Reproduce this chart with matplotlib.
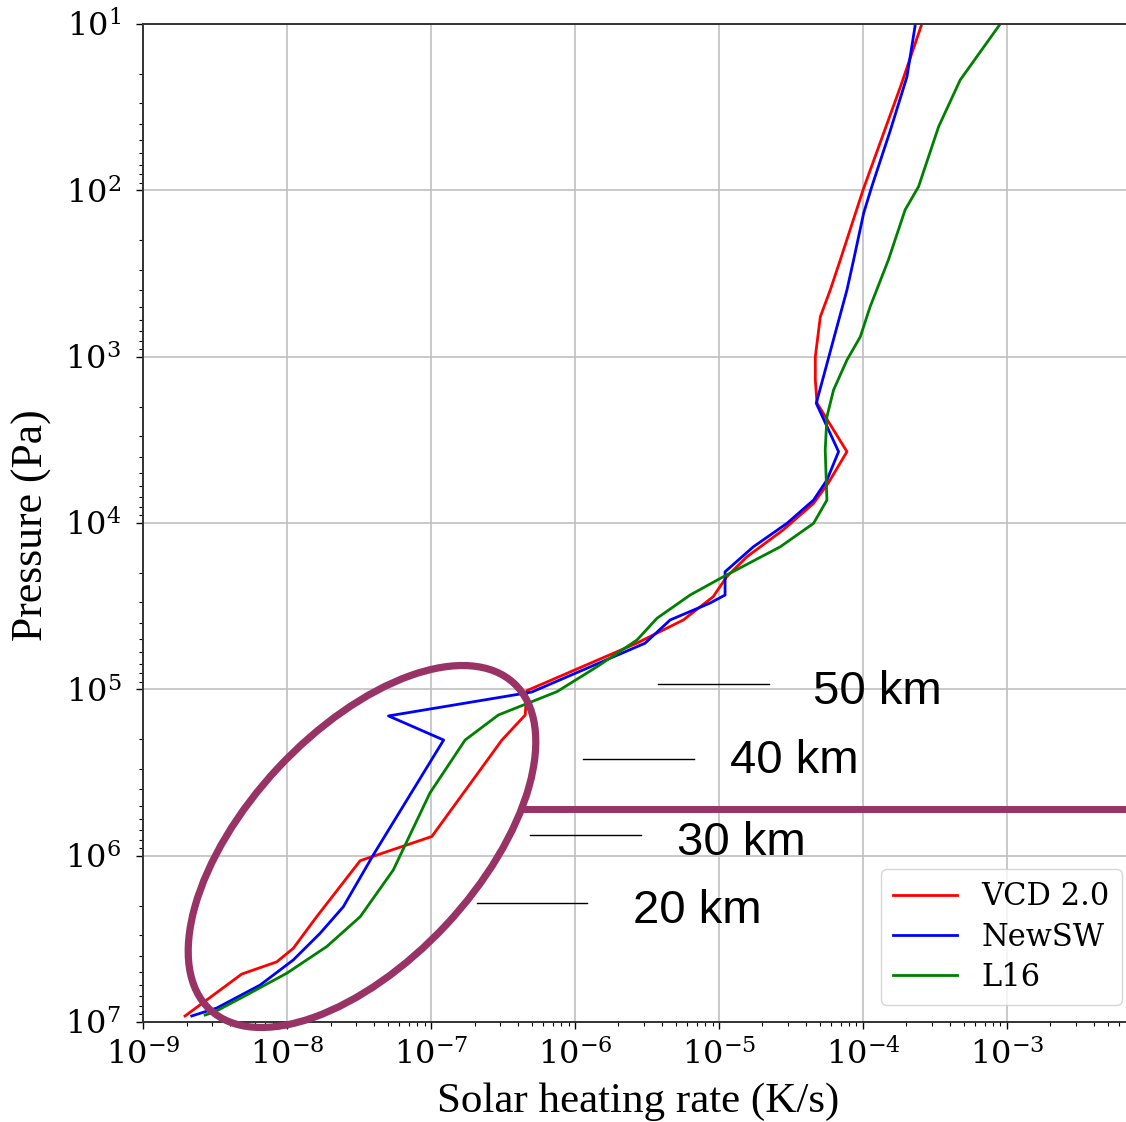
import numpy as np
import matplotlib.pyplot as plt
from matplotlib.patches import Ellipse
from matplotlib.lines import Line2D
from matplotlib.ticker import LogLocator

plt.rcParams['font.family'] = 'serif'
plt.rcParams['font.serif'] = ['DejaVu Serif']
plt.rcParams['mathtext.fontset'] = 'dejavuserif'

## heating rate profiles (K/s) against pressure (Pa)
vcd_rate = [2.56e-4, 1.82e-4, 1.0e-4, 6.95e-5, 5.92e-5, 5.05e-5, 4.66e-5, 4.66e-5,
            4.79e-5, 7.73e-5, 5.73e-5, 4.53e-5, 2.78e-5, 1.56e-5, 1.13e-5, 9.1e-6,
            5.64e-6, 2.69e-6, 4.61e-7, 4.50e-7, 3.10e-7, 1.01e-7, 3.21e-8, 1.60e-8,
            1.10e-8, 8.45e-9, 4.83e-9, 1.95e-9]
vcd_p = [10, 23.8, 99.5, 262, 397, 575, 1000, 1380,
         1905, 3725, 5755, 7620, 1.102e4, 1.596e4, 2.104e4, 2.773e4,
         3.828e4, 5.27e4, 1.019e5, 1.426e5, 2.017e5, 7.67e5, 1.072e6, 2.33e6,
         3.61e6, 4.35e6, 5.15e6, 9.2e6]

newsw_rate = [2.31e-4, 2.02e-4, 1.55e-4, 1.15e-4, 1.01e-4, 8.6e-5, 7.73e-5, 6.41e-5,
              5.31e-5, 4.73e-5, 6.76e-5, 5.61e-5, 4.53e-5, 2.96e-5, 1.73e-5, 1.10e-5,
              1.10e-5, 8.67e-6, 4.57e-6, 3.06e-6, 5.0e-7, 5.05e-8, 1.22e-7, 3.96e-8,
              2.45e-8, 1.69e-8, 1.10e-8, 6.47e-9, 3.24e-9, 2.17e-9]
newsw_p = [10, 20.7, 43.4, 95, 137, 262, 397, 721,
           1318, 1905, 3725, 5520, 7280, 1.005e4, 1.39e4, 1.964e4,
           2.71e4, 3.027e4, 3.828e4, 5.28e4, 1.038e5, 1.445e5, 2.017e5, 9.9e5,
           2.03e6, 2.93e6, 4.24e6, 6.0e6, 8.24e6, 9.2e6]

l16_rate = [8.97e-4, 4.73e-4, 3.35e-4, 2.43e-4, 1.96e-4, 1.50e-4, 1.12e-4, 9.57e-5,
            7.73e-5, 6.24e-5, 5.61e-5, 5.46e-5, 5.61e-5, 4.53e-5, 2.66e-5, 1.07e-5,
            6.29e-6, 3.70e-6, 2.69e-6, 1.42e-6, 7.47e-7, 2.93e-7, 1.72e-7, 9.8e-8,
            5.45e-8, 3.21e-8, 1.88e-8, 9.93e-9, 4.95e-9, 3.15e-9, 2.69e-9]
l16_p = [10, 21.7, 41.4, 95, 131, 262, 501, 759,
         1047, 1585, 2296, 3640, 7280, 1.005e4, 1.39e4, 2.104e4,
         2.71e4, 3.74e4, 5.05e4, 7.31e4, 1.033e5, 1.426e5, 2.017e5, 4.2e5,
         1.22e6, 2.33e6, 3.52e6, 5.09e6, 7.05e6, 8.67e6, 9.08e6]

altitude_labels = ['50 km', '40 km', '30 km', '20 km']

purple = '#993366'

fig = plt.figure(figsize=(11.26, 11.22), dpi=100)
ax = fig.add_axes([143.3/1126, 100/1122, (1137-143.3)/1126, 998/1122])

ax.plot(vcd_rate, vcd_p, color='red', lw=2.0, label='VCD 2.0')
ax.plot(newsw_rate, newsw_p, color='blue', lw=2.0, label='NewSW')
ax.plot(l16_rate, l16_p, color='green', lw=2.0, label='L16')

ax.set_xscale('log')
ax.set_yscale('log')
ax.set_xlim(1e-9, 8.0e-3)
ax.set_ylim(1e7, 1e1)
ax.xaxis.set_major_locator(LogLocator(base=10, numticks=20))
ax.xaxis.set_minor_locator(LogLocator(base=10, subs=np.arange(2, 10), numticks=100))
ax.yaxis.set_major_locator(LogLocator(base=10, numticks=20))
ax.yaxis.set_minor_locator(LogLocator(base=10, subs=np.arange(2, 10), numticks=100))

ax.grid(True, which='major', color='#c0c0c0', lw=1.2)
for s in ax.spines.values():
    s.set_color('#333333')
    s.set_linewidth(1.4)
ax.tick_params(which='major', length=5, width=1, labelsize=23)
ax.tick_params(which='minor', length=3, width=0.8)
ax.tick_params(axis='y', pad=11)
ax.tick_params(axis='x', pad=7)

ax.set_xlabel('Solar heating rate (K/s)', family='Liberation Serif', fontsize=31)
ax.set_ylabel('Pressure (Pa)', family='Liberation Serif', fontsize=31.5)
ax.xaxis.set_label_coords(0.498, -0.061)
ax.yaxis.set_label_coords(-0.0914, 0.498)

leg = ax.legend(loc='lower right', bbox_to_anchor=(1122/1126, 1-1005/1122),
                bbox_transform=fig.transFigure, borderaxespad=0,
                fontsize=22, labelspacing=0.3, handlelength=2.1)

## highlighted region and altitude markers (figure pixels)
ell = Ellipse((3.62, (1122-846.5)/100), 4.46, 2.30, angle=47,
              transform=fig.dpi_scale_trans, fill=False, ec=purple, lw=5.2)
fig.add_artist(ell)
fig.add_artist(Line2D([523/1126, 1.0], [1-809/1122]*2, transform=fig.transFigure,
                      color=purple, lw=5, solid_capstyle='butt'))

line_x0 = [658.3, 583.3, 530.0, 476.7]
line_y = [684.3, 759.3, 835.0, 903.3]
text_x = [813, 730, 677.3, 633.3]
text_base = [704.3, 772.7, 855.0, 923.3]
for lab, x0, ly, tx, tb in zip(altitude_labels, line_x0, line_y, text_x, text_base):
    fig.add_artist(Line2D([x0/1126, (x0+110.5)/1126], [1-ly/1122]*2,
                          transform=fig.transFigure, color='black', lw=1))
    fig.text(tx/1126, 1-tb/1122, lab, family='Liberation Sans', fontsize=34,
             va='baseline', ha='left')

fig.savefig('out.png', dpi=100)
